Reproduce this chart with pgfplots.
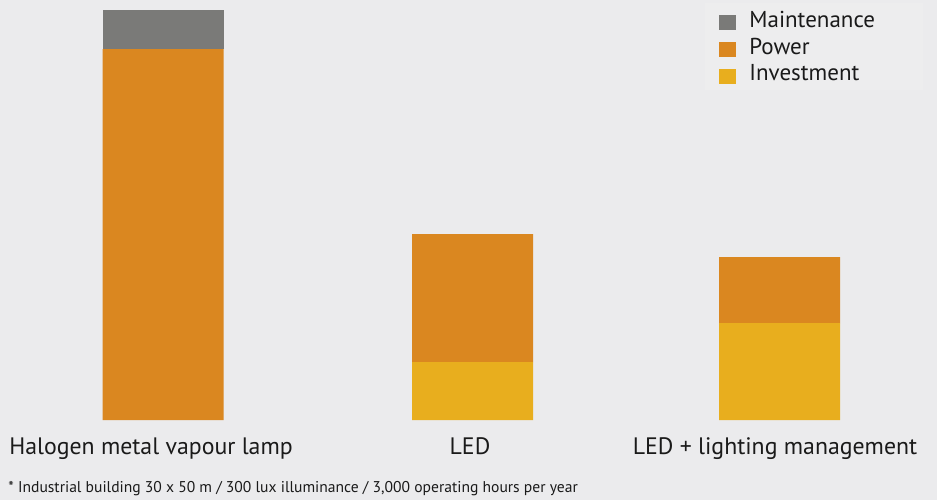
\documentclass[border=0pt]{standalone}
\usepackage{pgfplots}
\pgfplotsset{compat=1.18}
\usepackage{fontspec}
\setmainfont{PT Sans}
\definecolor{bg}{HTML}{EBEBED}
\definecolor{legbg}{HTML}{EDEDEE}
\definecolor{maint}{HTML}{7A7A78}
\definecolor{power}{HTML}{DA8720}
\definecolor{invest}{HTML}{E8AE1E}
\definecolor{txt}{HTML}{1A1A1A}
\begin{document}
\begin{tikzpicture}[x=0.5pt,y=0.5pt]
\fill[bg] (0,0) rectangle (937,500);
\fill[legbg] (705,410) rectangle (923,497);
\begin{axis}[
  at={(0,80)}, anchor=south west,
  scale only axis, width=468.5pt, height=210pt,
  xmin=0, xmax=937, ymin=0, ymax=420,
  ybar stacked, bar width=121,
  axis line style={draw=none},
  major tick length=0pt,
  xtick={151,470,775},
  xticklabels={Halogen metal vapour lamp, LED, LED + lighting management},
  ytick=\empty,
  xticklabel style={anchor=base, yshift=-17pt, font=\fontsize{11.9}{14}\selectfont, text=txt},
  clip=false,
  reverse legend,
  legend cell align=left,
  legend image code/.code={\fill[#1] (0pt,-3.75pt) rectangle (8.5pt,3.75pt); \path (15pt,0pt);},
  legend style={at={(719/937,411/420)}, anchor=north west, draw=none, fill=none,
    font=\fontsize{11.5}{13}\selectfont, text=txt,
    inner sep=0pt, row sep=0pt,
    nodes={inner sep=0pt, text height=9pt, text depth=4.35pt}},
]
\addplot[fill=invest, draw=none] coordinates {(163,0) (472.5,58) (779.5,97)};
\addplot[fill=power, draw=none] coordinates {(163,371) (472.5,128) (779.5,66)};
\addplot[fill=maint, draw=none] coordinates {(163,39) (472.5,0) (779.5,0)};
\legend{Investment, Power, Maintenance}
\end{axis}
\node[anchor=base west, inner sep=0pt, text=txt, font=\fontsize{7.8}{9}\selectfont] at (8,8) {* Industrial building 30 x 50 m / 300 lux illuminance / 3,000 operating hours per year};
\pgfresetboundingbox
\path (0,0) rectangle (937,500);
\end{tikzpicture}
\end{document}
